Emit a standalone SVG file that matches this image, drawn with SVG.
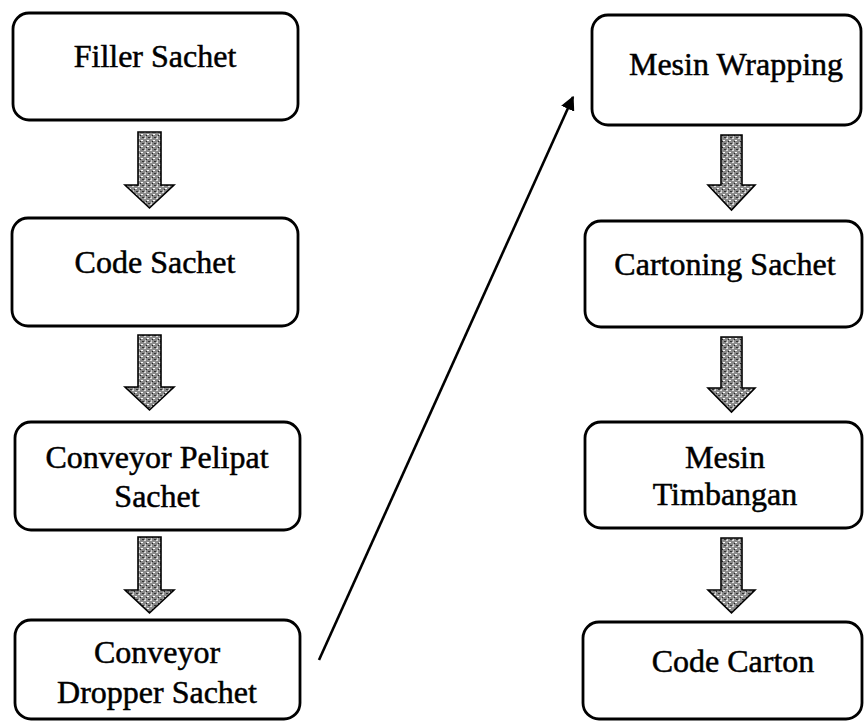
<svg xmlns="http://www.w3.org/2000/svg" width="865" height="722" viewBox="0 0 865 722">
<style>
.box{fill:#fff;stroke:#000;stroke-width:2.8}
.lbl{font-family:"Liberation Serif","Times New Roman",serif;font-size:32px;fill:#000;stroke:#000;stroke-width:0.5;text-anchor:middle}
.blk{fill:url(#noise);stroke:#000;stroke-width:1.6;stroke-linejoin:miter}
.conn{fill:none;stroke:#000;stroke-width:2.6}
</style>
<defs>
<pattern id="noise" width="6" height="6" patternUnits="userSpaceOnUse">
<rect width="6" height="6" fill="#8a8a8a"/>
<rect x="0" y="0" width="2" height="1" fill="#e0e0e0"/>
<rect x="3" y="2" width="2" height="1" fill="#ffffff"/>
<rect x="1" y="4" width="1" height="2" fill="#d0d0d0"/>
<rect x="4" y="5" width="2" height="1" fill="#333"/>
<rect x="2" y="3" width="1" height="1" fill="#222"/>
</pattern>
<marker id="ah" viewBox="0 0 10 10" refX="9" refY="5" markerWidth="5.5" markerHeight="5.5" orient="auto" markerUnits="strokeWidth">
<path d="M0,0 L10,5 L0,10 z" fill="#000"/>
</marker>
</defs>

<g id="n1"><rect class="box" x="13" y="13" width="285" height="107" rx="16"/><text class="lbl" x="155" y="67">Filler Sachet</text></g>
<g id="n2"><rect class="box" x="12" y="218" width="286" height="108" rx="16"/><text class="lbl" x="155" y="273">Code Sachet</text></g>
<g id="n3"><rect class="box" x="15" y="422" width="285" height="108" rx="16"/><text class="lbl" x="157" y="468">Conveyor Pelipat</text><text class="lbl" x="157" y="507">Sachet</text></g>
<g id="n4"><rect class="box" x="15" y="620" width="285" height="99" rx="16"/><text class="lbl" x="157" y="663">Conveyor</text><text class="lbl" x="157" y="703">Dropper Sachet</text></g>
<g id="n5"><rect class="box" x="592" y="15" width="269" height="110" rx="16"/><text class="lbl" x="736" y="75">Mesin Wrapping</text></g>
<g id="n6"><rect class="box" x="585" y="221" width="277" height="106" rx="16"/><text class="lbl" x="725" y="275">Cartoning Sachet</text></g>
<g id="n7"><rect class="box" x="585" y="422" width="277" height="106" rx="16"/><text class="lbl" x="725" y="468">Mesin</text><text class="lbl" x="725" y="505">Timbangan</text></g>
<g id="n8"><rect class="box" x="583" y="622" width="279" height="97" rx="16"/><text class="lbl" x="733" y="672">Code Carton</text></g>

<g id="connectors">
<path class="blk" d="M138,132 H161 V185 H174 L149.5,208 L125,185 H138 Z"/>
<path class="blk" d="M138,335 H161 V387 H174 L149.5,410 L125,387 H138 Z"/>
<path class="blk" d="M138,537 H161 V590 H174 L149.5,613 L125,590 H138 Z"/>
<path class="blk" d="M721,135 H742 V185 H755 L731.5,210 L708,185 H721 Z"/>
<path class="blk" d="M721,337 H742 V388 H755 L731.5,412 L708,388 H721 Z"/>
<path class="blk" d="M721,538 H742 V590 H755 L731.5,613 L708,590 H721 Z"/>
<line class="conn" x1="319" y1="660" x2="573" y2="97" marker-end="url(#ah)"/>
</g>
</svg>
